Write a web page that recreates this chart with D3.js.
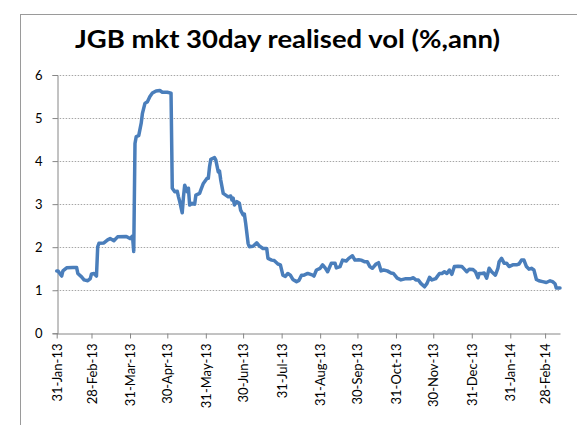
<!DOCTYPE html>
<html>
<head>
<meta charset="utf-8">
<script src="https://cdn.jsdelivr.net/npm/d3@7"></script>
<style>
  html, body { margin: 0; padding: 0; background: #fff; }
  svg { display: block; }
</style>
</head>
<body>
<svg id="chart" width="577" height="425"></svg>
<script>
const title = "JGB mkt 30day realised vol (%,ann)";

const dates = [
  "2013-01-31","2013-02-01","2013-02-04","2013-02-05","2013-02-08","2013-02-13","2013-02-16","2013-02-17",
  "2013-02-20","2013-02-22","2013-02-25","2013-02-27","2013-02-28","2013-03-02","2013-03-04","2013-03-05",
  "2013-03-06","2013-03-10","2013-03-13","2013-03-15","2013-03-18","2013-03-21","2013-03-28","2013-03-31",
  "2013-04-02","2013-04-03","2013-04-04","2013-04-05","2013-04-07","2013-04-09","2013-04-10","2013-04-12",
  "2013-04-14","2013-04-16","2013-04-18","2013-04-21","2013-04-24","2013-04-26","2013-04-30","2013-05-03",
  "2013-05-04","2013-05-06","2013-05-08","2013-05-09","2013-05-10","2013-05-12","2013-05-13","2013-05-14",
  "2013-05-16","2013-05-17","2013-05-18","2013-05-20","2013-05-22","2013-05-23","2013-05-26","2013-05-27",
  "2013-05-29","2013-06-01","2013-06-02","2013-06-03","2013-06-04","2013-06-07","2013-06-08","2013-06-10",
  "2013-06-11","2013-06-12","2013-06-14","2013-06-16","2013-06-18","2013-06-20","2013-06-21","2013-06-22",
  "2013-06-23","2013-06-25","2013-06-27","2013-06-28","2013-06-30","2013-07-01","2013-07-02","2013-07-04",
  "2013-07-05","2013-07-08","2013-07-11","2013-07-13","2013-07-16","2013-07-19","2013-07-20","2013-07-23",
  "2013-07-25","2013-07-28","2013-07-30","2013-08-01","2013-08-03","2013-08-05","2013-08-07","2013-08-09",
  "2013-08-12","2013-08-14","2013-08-16","2013-08-18","2013-08-21","2013-08-25","2013-08-26","2013-08-28",
  "2013-08-31","2013-09-02","2013-09-04","2013-09-06","2013-09-09","2013-09-12","2013-09-13","2013-09-16",
  "2013-09-18","2013-09-21","2013-09-23","2013-09-26","2013-09-28","2013-10-01","2013-10-03","2013-10-06",
  "2013-10-08","2013-10-10","2013-10-12","2013-10-15","2013-10-17","2013-10-19","2013-10-21","2013-10-24",
  "2013-10-27","2013-10-29","2013-11-01","2013-11-04","2013-11-08","2013-11-12","2013-11-14","2013-11-16",
  "2013-11-18","2013-11-20","2013-11-23","2013-11-25","2013-11-27","2013-11-29","2013-12-02","2013-12-05",
  "2013-12-07","2013-12-09","2013-12-11","2013-12-13","2013-12-15","2013-12-17","2013-12-20","2013-12-23",
  "2013-12-25","2013-12-27","2013-12-29","2014-01-01","2014-01-03","2014-01-05","2014-01-06","2014-01-08",
  "2014-01-10","2014-01-12","2014-01-14","2014-01-16","2014-01-19","2014-01-21","2014-01-22","2014-01-24",
  "2014-01-26","2014-01-28","2014-01-30","2014-02-02","2014-02-05","2014-02-07","2014-02-09","2014-02-11",
  "2014-02-13","2014-02-15","2014-02-17","2014-02-19","2014-02-21","2014-02-23","2014-02-26","2014-03-01",
  "2014-03-04","2014-03-06","2014-03-08","2014-03-09","2014-03-12"
];

const vols = [
  1.45,1.45,1.33,1.45,1.52,1.53,1.53,1.39,
  1.31,1.24,1.22,1.27,1.38,1.39,1.33,2.01,
  2.09,2.10,2.17,2.20,2.15,2.24,2.25,2.20,
  2.26,1.90,4.41,4.57,4.59,4.88,5.11,5.34,
  5.38,5.50,5.58,5.63,5.64,5.60,5.60,5.58,
  3.37,3.29,3.30,3.17,3.06,2.80,3.17,3.44,
  3.29,3.37,2.98,3.02,3.00,3.21,3.25,3.33,
  3.48,3.60,3.60,3.87,4.04,4.08,4.03,3.75,
  3.77,3.56,3.25,3.21,3.17,3.19,3.10,3.14,
  2.98,3.06,3.02,2.86,2.75,2.77,2.57,2.09,
  2.01,2.02,2.10,2.03,1.97,1.97,1.74,1.70,
  1.69,1.61,1.59,1.35,1.32,1.39,1.35,1.25,
  1.20,1.23,1.35,1.35,1.39,1.35,1.33,1.47,
  1.51,1.59,1.52,1.43,1.63,1.63,1.52,1.55,
  1.70,1.68,1.74,1.80,1.70,1.71,1.70,1.66,
  1.66,1.55,1.51,1.61,1.64,1.45,1.47,1.45,
  1.40,1.39,1.28,1.24,1.27,1.27,1.29,1.24,
  1.24,1.16,1.08,1.16,1.30,1.24,1.27,1.39,
  1.39,1.43,1.39,1.47,1.37,1.55,1.56,1.55,
  1.49,1.43,1.49,1.48,1.43,1.29,1.39,1.39,
  1.40,1.28,1.51,1.43,1.35,1.51,1.66,1.74,
  1.63,1.63,1.55,1.59,1.59,1.61,1.70,1.70,
  1.55,1.49,1.51,1.47,1.25,1.22,1.20,1.18,
  1.22,1.20,1.15,1.05,1.05
];

const xTickDates = [
  "2013-01-31","2013-02-28","2013-03-31","2013-04-30","2013-05-31","2013-06-30","2013-07-31",
  "2013-08-31","2013-09-30","2013-10-31","2013-11-30","2013-12-31","2014-01-31","2014-02-28"
];
const yTicks = [0, 1, 2, 3, 4, 5, 6];

const parse = d3.utcParse("%Y-%m-%d");
const fmt = d3.utcFormat("%-d-%b-%y");
const data = dates.map((d, i) => ({ date: parse(d), v: vols[i] }));

const svg = d3.select("#chart");
const plot = { left: 56.7, right: 560, top: 75, bottom: 333.3 };

// outer chart border
svg.append("rect")
  .attr("x", 20.5).attr("y", 14.5)
  .attr("width", 600).attr("height", 450)
  .attr("fill", "none").attr("stroke", "#9a9a9a").attr("stroke-width", 1);

const x = d3.scaleUtc()
  .domain([parse("2013-01-31"), parse("2014-03-12")])
  .range([plot.left, plot.right]);
const y = d3.scaleLinear().domain([0, 6]).range([plot.bottom, plot.top]);

// gridlines
svg.append("g")
  .selectAll("line")
  .data(yTicks.filter(t => t > 0))
  .join("line")
  .attr("x1", plot.left).attr("x2", plot.right - 1)
  .attr("y1", d => Math.round(y(d)) + 0.5).attr("y2", d => Math.round(y(d)) + 0.5)
  .attr("stroke", "#a6a6a6").attr("stroke-width", 1)
  .attr("stroke-dasharray", "1.5,1.5");

// y axis
const yAxis = svg.append("g")
  .attr("transform", `translate(${Math.round(plot.left) + 0.5},0)`)
  .call(d3.axisLeft(y).tickValues(yTicks).tickSize(5).tickPadding(10).tickFormat(d3.format("d")));
yAxis.select(".domain").attr("stroke", "#868686");
yAxis.selectAll(".tick line").attr("stroke", "#868686");
yAxis.selectAll(".tick text")
  .attr("font-family", "Lato, 'Open Sans', sans-serif")
  .attr("font-size", 13).attr("fill", "#000");

// x axis
const xAxis = svg.append("g")
  .attr("transform", `translate(0,${Math.round(plot.bottom) + 0.5})`)
  .call(d3.axisBottom(x).tickValues(xTickDates.map(parse)).tickSize(5).tickSizeOuter(0).tickFormat(fmt));
xAxis.select(".domain").attr("stroke", "#868686");
xAxis.selectAll(".tick line").attr("stroke", "#868686");
xAxis.selectAll(".tick text")
  .attr("font-family", "Lato, 'Open Sans', sans-serif")
  .attr("font-size", 13).attr("fill", "#000")
  .attr("text-anchor", "end")
  .attr("transform", "rotate(-90)")
  .attr("x", -10).attr("y", 0).attr("dy", "0.35em");

// line
const line = d3.line().x(d => x(d.date)).y(d => y(d.v));
svg.append("path")
  .datum(data)
  .attr("d", line)
  .attr("fill", "none")
  .attr("stroke", "#4a7ebb")
  .attr("stroke-width", 3.5)
  .attr("stroke-linejoin", "round")
  .attr("stroke-linecap", "round");

// title
svg.append("text")
  .attr("x", 287.5).attr("y", 47.5)
  .attr("text-anchor", "middle")
  .attr("font-family", "Lato, 'Open Sans', sans-serif")
  .attr("font-weight", "bold")
  .attr("font-size", 25)
  .attr("fill", "#000")
  .attr("textLength", 425)
  .attr("lengthAdjust", "spacingAndGlyphs")
  .text(title);
</script>
</body>
</html>
